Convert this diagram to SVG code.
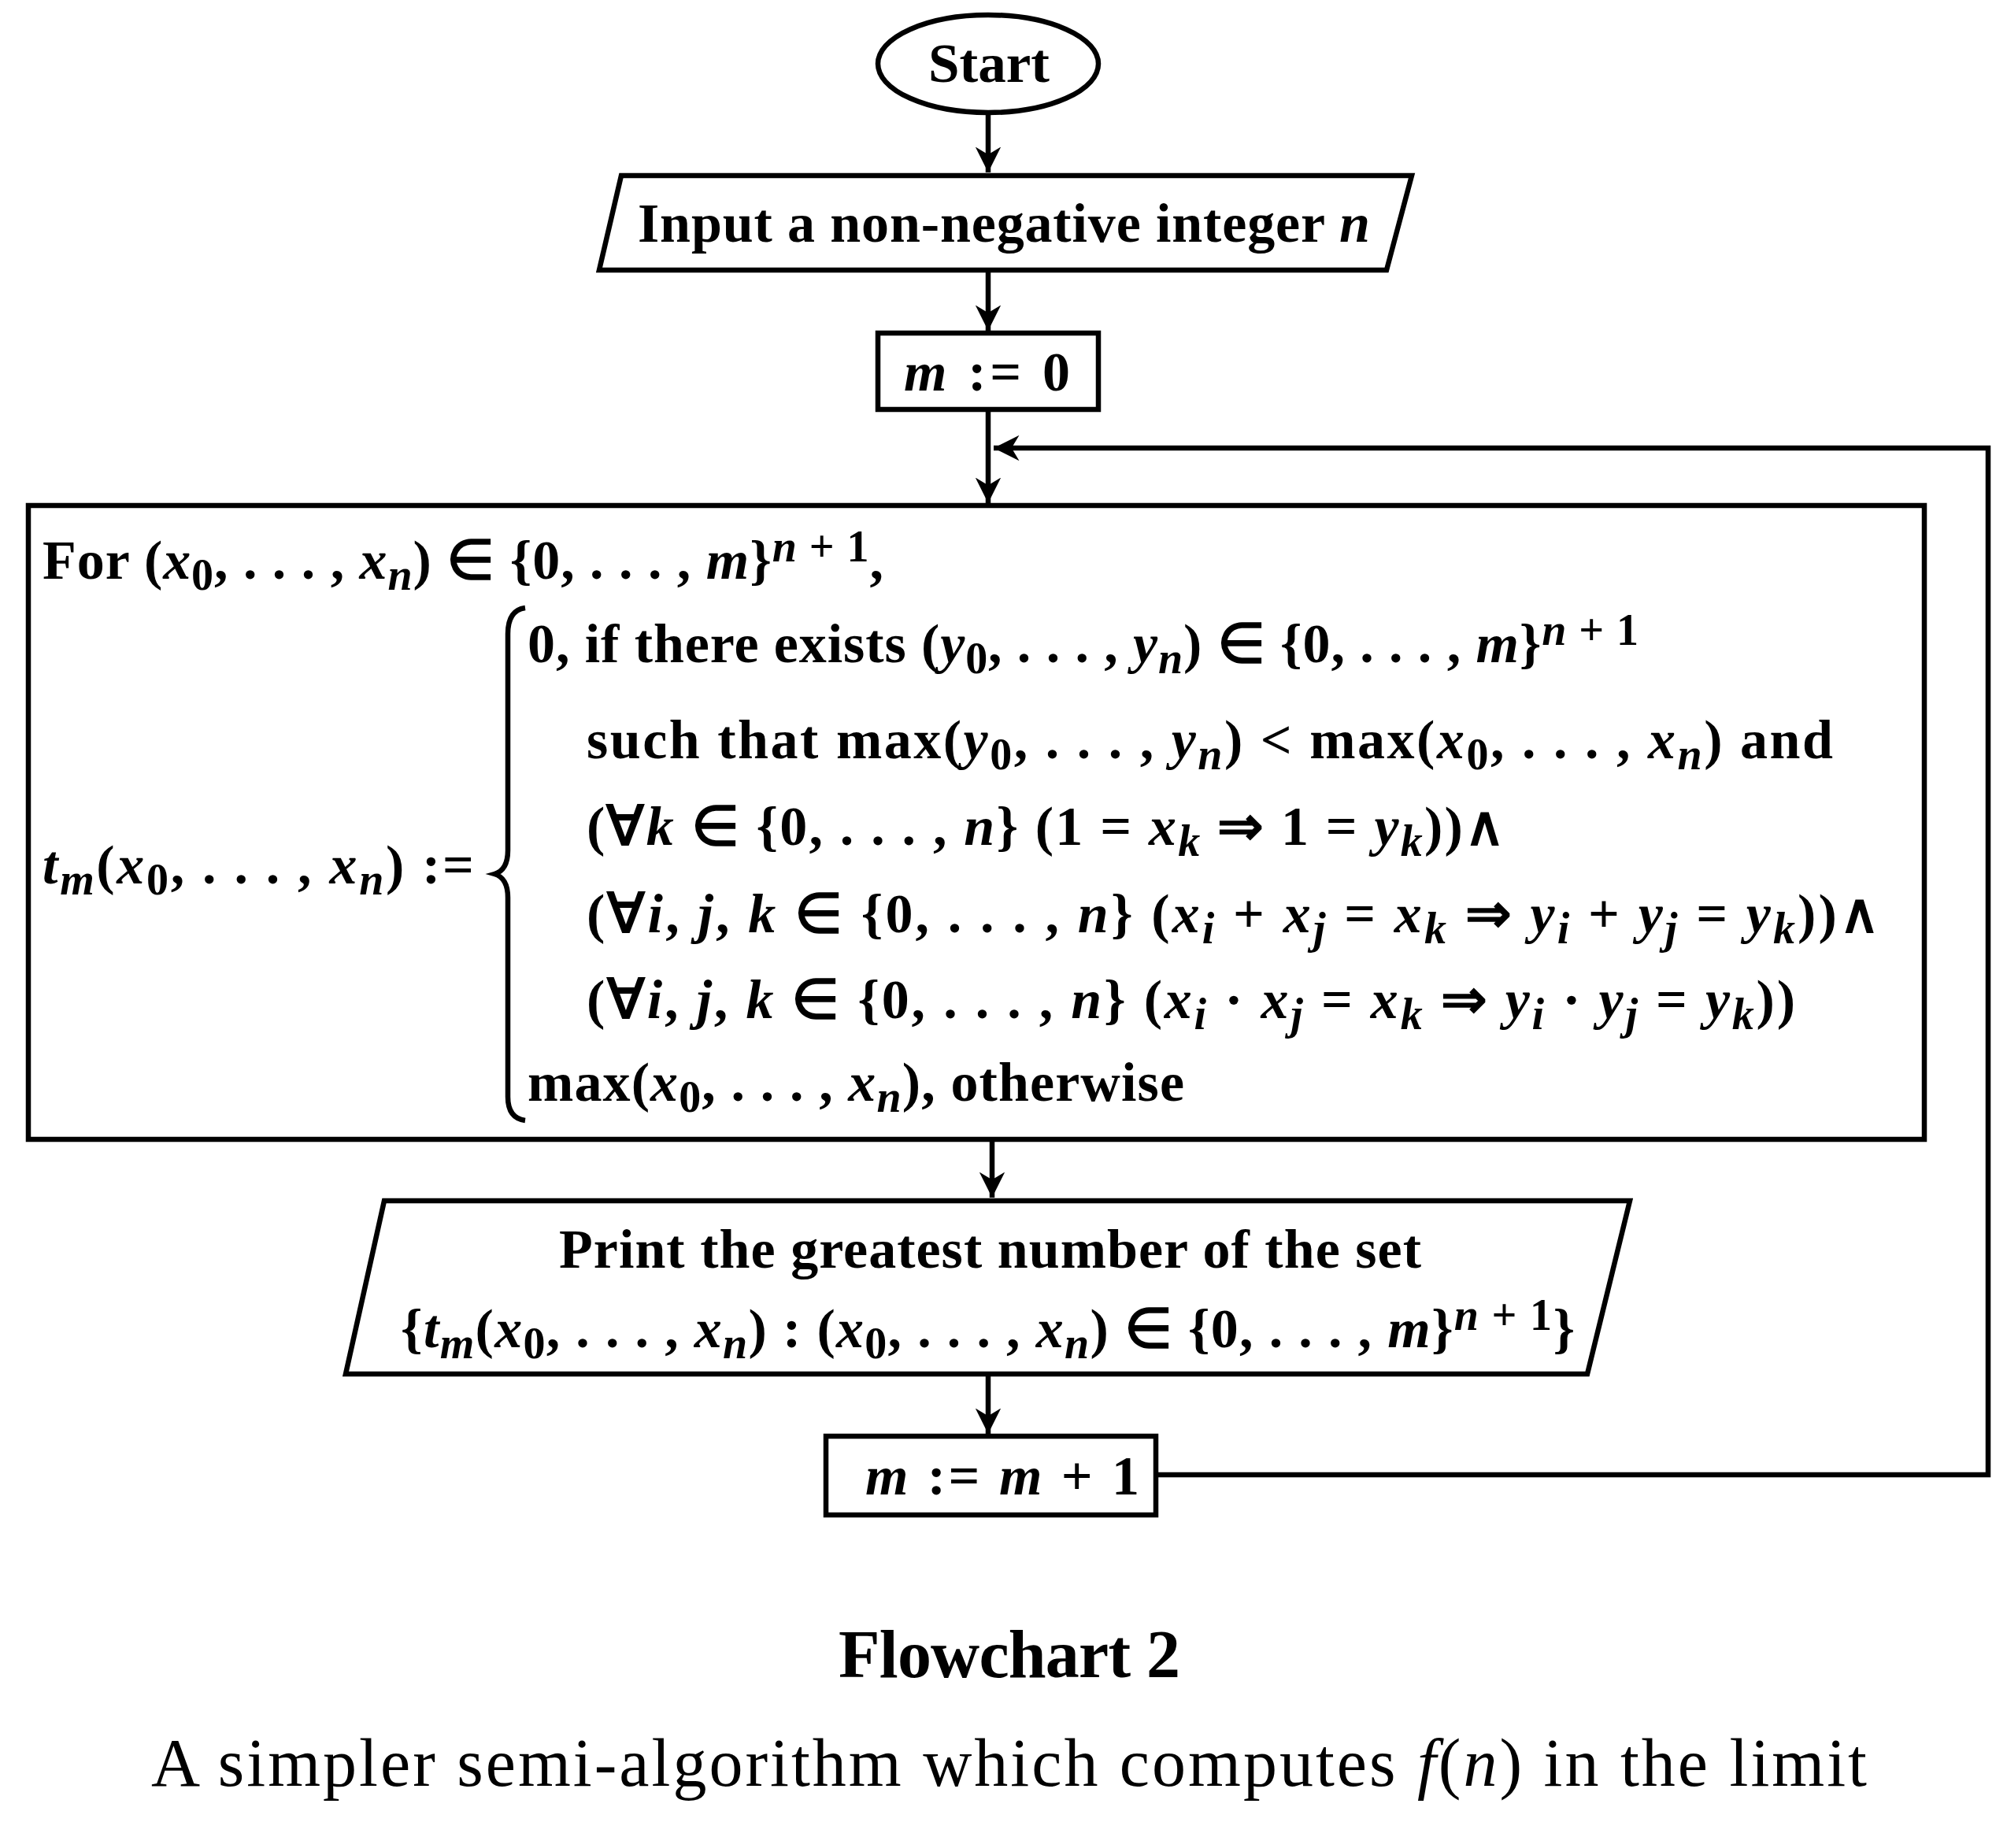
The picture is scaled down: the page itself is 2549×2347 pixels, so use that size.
<svg xmlns="http://www.w3.org/2000/svg" width="2549" height="2347" viewBox="0 0 2549 2347">
<style>
.s{fill:none;stroke:#000;stroke-width:6.5}
.w{fill:#fff;stroke:#000;stroke-width:6.5}
.t{font-family:"Liberation Serif",serif;font-weight:bold;font-size:70px;fill:#000}
.i{font-style:italic}
.sb{font-size:56px;baseline-shift:-14px}
.sp{font-size:56px;baseline-shift:22px}
.c{font-family:"Liberation Serif",serif;font-size:86px;fill:#000}
</style>
<defs>
<marker id="a" viewBox="0 0 10 10" refX="10" refY="5" markerWidth="5" markerHeight="5" orient="auto" markerUnits="strokeWidth">
<path d="M0,0 L10,5 L0,10 L3,5 Z" fill="#000"/>
</marker>
</defs>
<g id="connectors">
<line class="s" x1="1255" y1="143" x2="1255" y2="219" marker-end="url(#a)"/>
<line class="s" x1="1255" y1="343" x2="1255" y2="420" marker-end="url(#a)"/>
<line class="s" x1="1255" y1="520" x2="1255" y2="639" marker-end="url(#a)"/>
<polyline class="s" points="1468,1873 2525,1873 2525,569 1262,569" marker-end="url(#a)"/>
<line class="s" x1="1260" y1="1447" x2="1260" y2="1521" marker-end="url(#a)"/>
<line class="s" x1="1255" y1="1745" x2="1255" y2="1821" marker-end="url(#a)"/>
</g>
<g id="start">
<ellipse class="w" cx="1255" cy="81" rx="140" ry="62"/>
<text class="t" x="1256" y="104" text-anchor="middle" textLength="154" lengthAdjust="spacingAndGlyphs">Start</text>
</g>
<g id="input">
<polygon class="w" points="789,223 1793,223 1761,343 761,343"/>
<text class="t" x="810" y="307" textLength="930">Input a non-negative integer <tspan class="i">n</tspan></text>
</g>
<g id="init">
<rect class="w" x="1115" y="423" width="280" height="97"/>
<text class="t" x="1148" y="496" textLength="211"><tspan class="i">m</tspan> := 0</text>
</g>
<g id="compute">
<rect class="w" x="36" y="642" width="2408" height="805"/>
<text class="t" x="54" y="735" textLength="1068">For (<tspan class="i">x</tspan><tspan class="sb">0</tspan>, . . . , <tspan class="i">x</tspan><tspan class="sb i">n</tspan>) ∈ {0, . . . , <tspan class="i">m</tspan>}<tspan class="sp i">n</tspan><tspan class="sp"> + 1</tspan>,</text>
<text class="t" x="54" y="1122" textLength="548"><tspan class="i">t</tspan><tspan class="sb i">m</tspan>(<tspan class="i">x</tspan><tspan class="sb">0</tspan>, . . . , <tspan class="i">x</tspan><tspan class="sb i">n</tspan>) :=</text>
<path class="s" d="M667 772 Q645 775 645 805 L645 1080 Q645 1105 628 1110 Q645 1115 645 1140 L645 1393 Q645 1420 667 1423" stroke-width="5"/>
<text class="t" x="670" y="841" textLength="1411">0, if there exists (<tspan class="i">y</tspan><tspan class="sb">0</tspan>, . . . , <tspan class="i">y</tspan><tspan class="sb i">n</tspan>) ∈ {0, . . . , <tspan class="i">m</tspan>}<tspan class="sp i">n</tspan><tspan class="sp"> + 1</tspan></text>
<text class="t" x="745" y="963" textLength="1583">such that  max(<tspan class="i">y</tspan><tspan class="sb">0</tspan>, . . . , <tspan class="i">y</tspan><tspan class="sb i">n</tspan>) &lt;  max(<tspan class="i">x</tspan><tspan class="sb">0</tspan>, . . . , <tspan class="i">x</tspan><tspan class="sb i">n</tspan>)  and</text>
<text class="t" x="745" y="1073" textLength="1166">(∀<tspan class="i">k</tspan> ∈ {0, . . . , <tspan class="i">n</tspan>} (1 = <tspan class="i">x</tspan><tspan class="sb i">k</tspan> ⇒ 1 = <tspan class="i">y</tspan><tspan class="sb i">k</tspan>))∧</text>
<text class="t" x="745" y="1184" textLength="1642">(∀<tspan class="i">i</tspan>, <tspan class="i">j</tspan>, <tspan class="i">k</tspan> ∈ {0, . . . , <tspan class="i">n</tspan>} (<tspan class="i">x</tspan><tspan class="sb i">i</tspan> + <tspan class="i">x</tspan><tspan class="sb i">j</tspan> = <tspan class="i">x</tspan><tspan class="sb i">k</tspan> ⇒ <tspan class="i">y</tspan><tspan class="sb i">i</tspan> + <tspan class="i">y</tspan><tspan class="sb i">j</tspan> = <tspan class="i">y</tspan><tspan class="sb i">k</tspan>))∧</text>
<text class="t" x="745" y="1293" textLength="1535">(∀<tspan class="i">i</tspan>, <tspan class="i">j</tspan>, <tspan class="i">k</tspan> ∈ {0, . . . , <tspan class="i">n</tspan>} (<tspan class="i">x</tspan><tspan class="sb i">i</tspan> · <tspan class="i">x</tspan><tspan class="sb i">j</tspan> = <tspan class="i">x</tspan><tspan class="sb i">k</tspan> ⇒ <tspan class="i">y</tspan><tspan class="sb i">i</tspan> · <tspan class="i">y</tspan><tspan class="sb i">j</tspan> = <tspan class="i">y</tspan><tspan class="sb i">k</tspan>))</text>
<text class="t" x="670" y="1398" textLength="834">max(<tspan class="i">x</tspan><tspan class="sb">0</tspan>, . . . , <tspan class="i">x</tspan><tspan class="sb i">n</tspan>), otherwise</text>
</g>
<g id="print">
<polygon class="w" points="488,1525 2070,1525 2016,1745 439,1745"/>
<text class="t" x="710" y="1610" textLength="1095">Print the greatest number of the set</text>
<text class="t" x="509" y="1711" textLength="1491">{<tspan class="i">t</tspan><tspan class="sb i">m</tspan>(<tspan class="i">x</tspan><tspan class="sb">0</tspan>, . . . , <tspan class="i">x</tspan><tspan class="sb i">n</tspan>) : (<tspan class="i">x</tspan><tspan class="sb">0</tspan>, . . . , <tspan class="i">x</tspan><tspan class="sb i">n</tspan>) ∈ {0, . . . , <tspan class="i">m</tspan>}<tspan class="sp i">n</tspan><tspan class="sp"> + 1</tspan>}</text>
</g>
<g id="increment">
<rect class="w" x="1049" y="1824" width="419" height="100"/>
<text class="t" x="1099" y="1898" textLength="348"><tspan class="i">m</tspan> := <tspan class="i">m</tspan> + 1</text>
</g>
<g id="caption">
<text class="c" x="1065" y="2130" font-weight="bold" textLength="434">Flowchart 2</text>
<text class="c" x="192" y="2268" textLength="2179">A simpler semi-algorithm which computes <tspan font-style="italic">f</tspan>(<tspan font-style="italic">n</tspan>) in the limit</text>
</g>
</svg>
